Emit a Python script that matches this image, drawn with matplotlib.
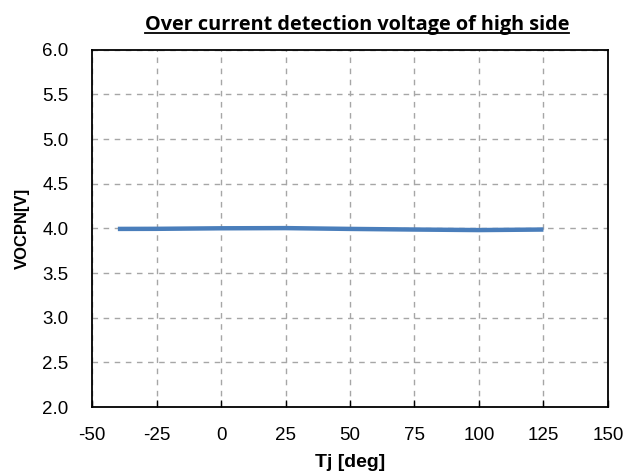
import numpy as np
from matplotlib import pyplot as plt
from matplotlib.lines import Line2D

# junction temperature [deg C] and measured detection voltage [V]
tj = [-40, -25, 0, 25, 50, 75, 100, 125]
vocpn = [3.995, 3.996, 4.002, 4.004, 3.995, 3.988, 3.982, 3.988]

x_ticks = [-50, -25, 0, 25, 50, 75, 100, 125, 150]
y_ticks = [2.0, 2.5, 3.0, 3.5, 4.0, 4.5, 5.0, 5.5, 6.0]

plt.rcParams['font.family'] = ['Liberation Sans', 'DejaVu Sans']
plt.rcParams['axes.unicode_minus'] = False

fig = plt.figure(figsize=(6.44, 4.74), dpi=100)
ax = fig.add_axes([0.143, 0.141, 0.801, 0.754])

ax.plot(tj, vocpn, color='#4a7ebb', linewidth=3.2, solid_capstyle='butt')

ax.set_xlim(-50, 150)
ax.set_ylim(2.0, 6.0)
ax.set_xticks(x_ticks)
ax.set_yticks(y_ticks)
ax.set_yticklabels([f'{v:.1f}' for v in y_ticks])
ax.grid(True, color='#a6a6a6', linestyle=(0, (4, 4)), linewidth=1.0)
ax.set_axisbelow(True)

ax.tick_params(axis='x', direction='in', length=5, width=1, labelsize=13.5, pad=14)
ax.tick_params(axis='y', length=0, labelsize=13.5, pad=17)
for s in ax.spines.values():
    s.set_linewidth(1.3)
    s.set_color('black')

ax.set_xlabel('Tj [deg]', fontsize=14, fontweight='bold')
ax.set_ylabel('VOCPN[V]', fontsize=12, fontweight='bold')
ax.xaxis.set_label_coords(0.5, -0.132)
ax.yaxis.set_label_coords(-0.12, 0.5)

title = fig.text(0.554, 0.937, 'Over current detection voltage of high side',
                 ha='center', va='baseline', fontsize=14.3, fontweight='bold',
                 family=['Open Sans', 'DejaVu Sans'])

# underline the title
fig.canvas.draw()
bb = title.get_window_extent().transformed(fig.transFigure.inverted())
y_ul = 0.937 - 0.006
fig.add_artist(Line2D([bb.x0, bb.x1], [y_ul, y_ul], color='black', linewidth=1.3,
                      transform=fig.transFigure))

fig.savefig('out.png', dpi=100)
